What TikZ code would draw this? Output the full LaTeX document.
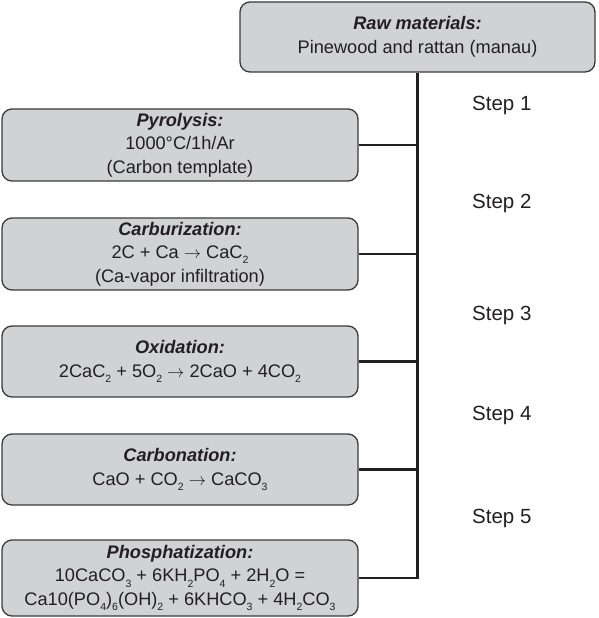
\documentclass[tikz,border=0pt]{standalone}
\usepackage{fontspec}
\setmainfont{Liberation Sans}
\newcommand{\chsub}[1]{\raisebox{-0.55ex}{\fontsize{10.5}{10.5}\selectfont #1}}
\definecolor{boxfill}{HTML}{D1D2D4}
\definecolor{boxline}{HTML}{3A3A3A}
\definecolor{ink}{HTML}{231F20}
\tikzset{
  stepbox/.style={draw=boxline, fill=boxfill, line width=1.3pt, rounded corners=10pt,
    align=center, inner sep=0pt, text=ink,
    font=\fontsize{18.2}{23.5}\selectfont},
  conn/.style={draw=ink, line width=2.8pt},
  steplabel/.style={anchor=west, text=ink, font=\fontsize{20.5}{24}\selectfont, inner sep=0pt}
}
\begin{document}
\begin{tikzpicture}[x=1pt,y=-1pt]
\useasboundingbox (0,0) rectangle (598,618);
\node[stepbox, minimum width=355pt, minimum height=70pt] (raw) at (417.5,37)
  {\textbf{\textit{Raw materials:}}\\Pinewood and rattan (manau)};
\node[stepbox, minimum width=356pt, minimum height=72pt] (pyro) at (180,145)
  {\textbf{\textit{Pyrolysis:}}\\1000°C/1h/Ar\\(Carbon template)};
\node[stepbox, minimum width=356pt, minimum height=72pt] (carb) at (180,254)
  {\textbf{\textit{Carburization:}}\\2C + Ca $\rightarrow$ CaC\chsub{2}\\(Ca-vapor infiltration)};
\node[stepbox, minimum width=356pt, minimum height=71pt] (oxid) at (180,361.5)
  {\textbf{\textit{Oxidation:}}\\2CaC\chsub{2} + 5O\chsub{2} $\rightarrow$ 2CaO + 4CO\chsub{2}};
\node[stepbox, minimum width=356pt, minimum height=71pt] (carbo) at (180,469.5)
  {\textbf{\textit{Carbonation:}}\\CaO + CO\chsub{2} $\rightarrow$ CaCO\chsub{3}};
\node[stepbox, minimum width=356pt, minimum height=76pt] (phos) at (180,578)
  {\textbf{\textit{Phosphatization:}}\\10CaCO\chsub{3} + 6KH\chsub{2}PO\chsub{4} + 2H\chsub{2}O =\\Ca10(PO\chsub{4})\chsub{6}(OH)\chsub{2} + 6KHCO\chsub{3} + 4H\chsub{2}CO\chsub{3}};
\coordinate (trunk) at (418,578);
\draw[conn] (raw.south) -- (raw.south |- trunk) -- (phos.east);
\foreach \b in {pyro,carb,oxid,carbo}
  \draw[conn] (\b.east) -- (\b.east -| raw.south);
\node[steplabel] (s1) at (472,105) {Step 1};
\node[steplabel] (s2) at (472,203) {Step 2};
\node[steplabel] (s3) at (472,315) {Step 3};
\node[steplabel] (s4) at (472,415) {Step 4};
\node[steplabel] (s5) at (472,518) {Step 5};
\end{tikzpicture}
\end{document}
